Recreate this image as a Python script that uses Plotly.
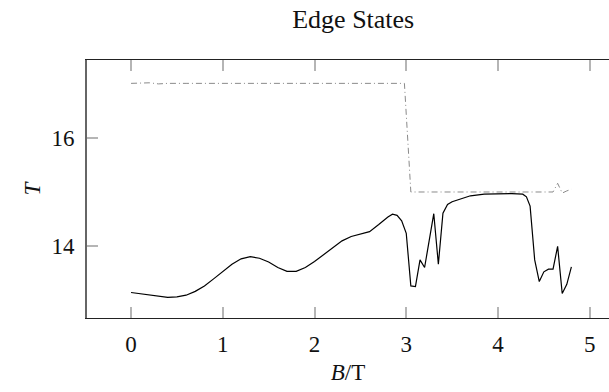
import plotly.graph_objects as go

# Black solid series
b_black = [0, 0.1, 0.2, 0.3, 0.4, 0.5, 0.6, 0.7, 0.8, 0.9, 1.0, 1.1, 1.2, 1.3, 1.4, 1.5,
           1.6, 1.7, 1.8, 1.9, 2.0, 2.1, 2.2, 2.3, 2.4, 2.5, 2.6, 2.7, 2.8, 2.85, 2.9, 2.95,
           3.0, 3.05, 3.1, 3.15, 3.2, 3.3, 3.35, 3.4, 3.45, 3.5, 3.6, 3.7, 3.85, 4.0, 4.15,
           4.27, 4.31, 4.35, 4.4, 4.45, 4.5, 4.55, 4.6, 4.65, 4.7, 4.75, 4.8]
t_black = [13.15, 13.13, 13.11, 13.08, 13.06, 13.07, 13.10, 13.17, 13.27, 13.40, 13.54,
           13.67, 13.77, 13.81, 13.78, 13.71, 13.61, 13.54, 13.54, 13.61, 13.72, 13.85,
           13.98, 14.10, 14.18, 14.22, 14.27, 14.40, 14.54, 14.59, 14.57, 14.47, 14.24,
           13.27, 13.26, 13.75, 13.61, 14.60, 13.67, 14.61, 14.77, 14.82, 14.88, 14.93,
           14.96, 14.97, 14.97, 14.96, 14.91, 14.74, 13.75, 13.35, 13.53, 13.58, 13.58,
           14.00, 13.13, 13.30, 13.62]

# Gray dash-dotted series
b_gray = [0, 0.2, 0.3, 0.4, 0.6, 1.0, 1.5, 2.0, 2.5, 2.98, 3.05, 3.5, 4.0, 4.5, 4.6, 4.65,
          4.7, 4.75, 4.8]
t_gray = [17.0, 17.01, 16.99, 17.0, 17.0, 17.0, 17.0, 17.0, 17.0, 17.0, 15.0, 15.0, 15.0,
          14.99, 15.0, 15.16, 14.98, 15.02, 15.05]

x_ticks = [0, 1, 2, 3, 4, 5]
y_ticks = [14, 16]

FONT = "Liberation Serif"

fig = go.Figure()
fig.add_trace(go.Scatter(x=b_gray, y=t_gray, mode="lines",
                         line=dict(color="#8a8a8a", width=1, dash="6px,3px,1px,3px"),
                         showlegend=False))
fig.add_trace(go.Scatter(x=b_black, y=t_black, mode="lines",
                         line=dict(color="black", width=1.2),
                         showlegend=False))

fig.update_layout(
    width=609, height=392,
    margin=dict(l=87, r=0, t=60, b=74),
    paper_bgcolor="white", plot_bgcolor="white",
    font=dict(family=FONT, color="#111", size=24),
    title=dict(text="Edge States", x=0.58, xanchor="center", xref="container",
               y=1 - 19/392, yanchor="middle", yref="container",
               font=dict(family=FONT, size=26, color="#111")),
    xaxis=dict(range=[-0.48, 5.21], tickvals=x_ticks, ticks="inside", ticklen=11,
               tickcolor="#b5b5b5", tickwidth=1.5, showline=True, linecolor="#222",
               linewidth=1.2, mirror="ticks", showgrid=False, zeroline=False,
               tickfont=dict(size=23), ticklabelstandoff=5,
               title=dict(text="<i>B</i>/T", font=dict(size=23), standoff=8)),
    yaxis=dict(range=[12.68, 17.43], tickvals=y_ticks, ticks="inside", ticklen=11,
               tickcolor="#b5b5b5", tickwidth=1.5, showline=True, linecolor="#666",
               linewidth=2, showgrid=False, zeroline=False, ticklabelstandoff=6,
               tickfont=dict(size=23),
               title=dict(text="<i>T</i>", font=dict(size=23), standoff=4)),
)

fig.write_html("out.html")
